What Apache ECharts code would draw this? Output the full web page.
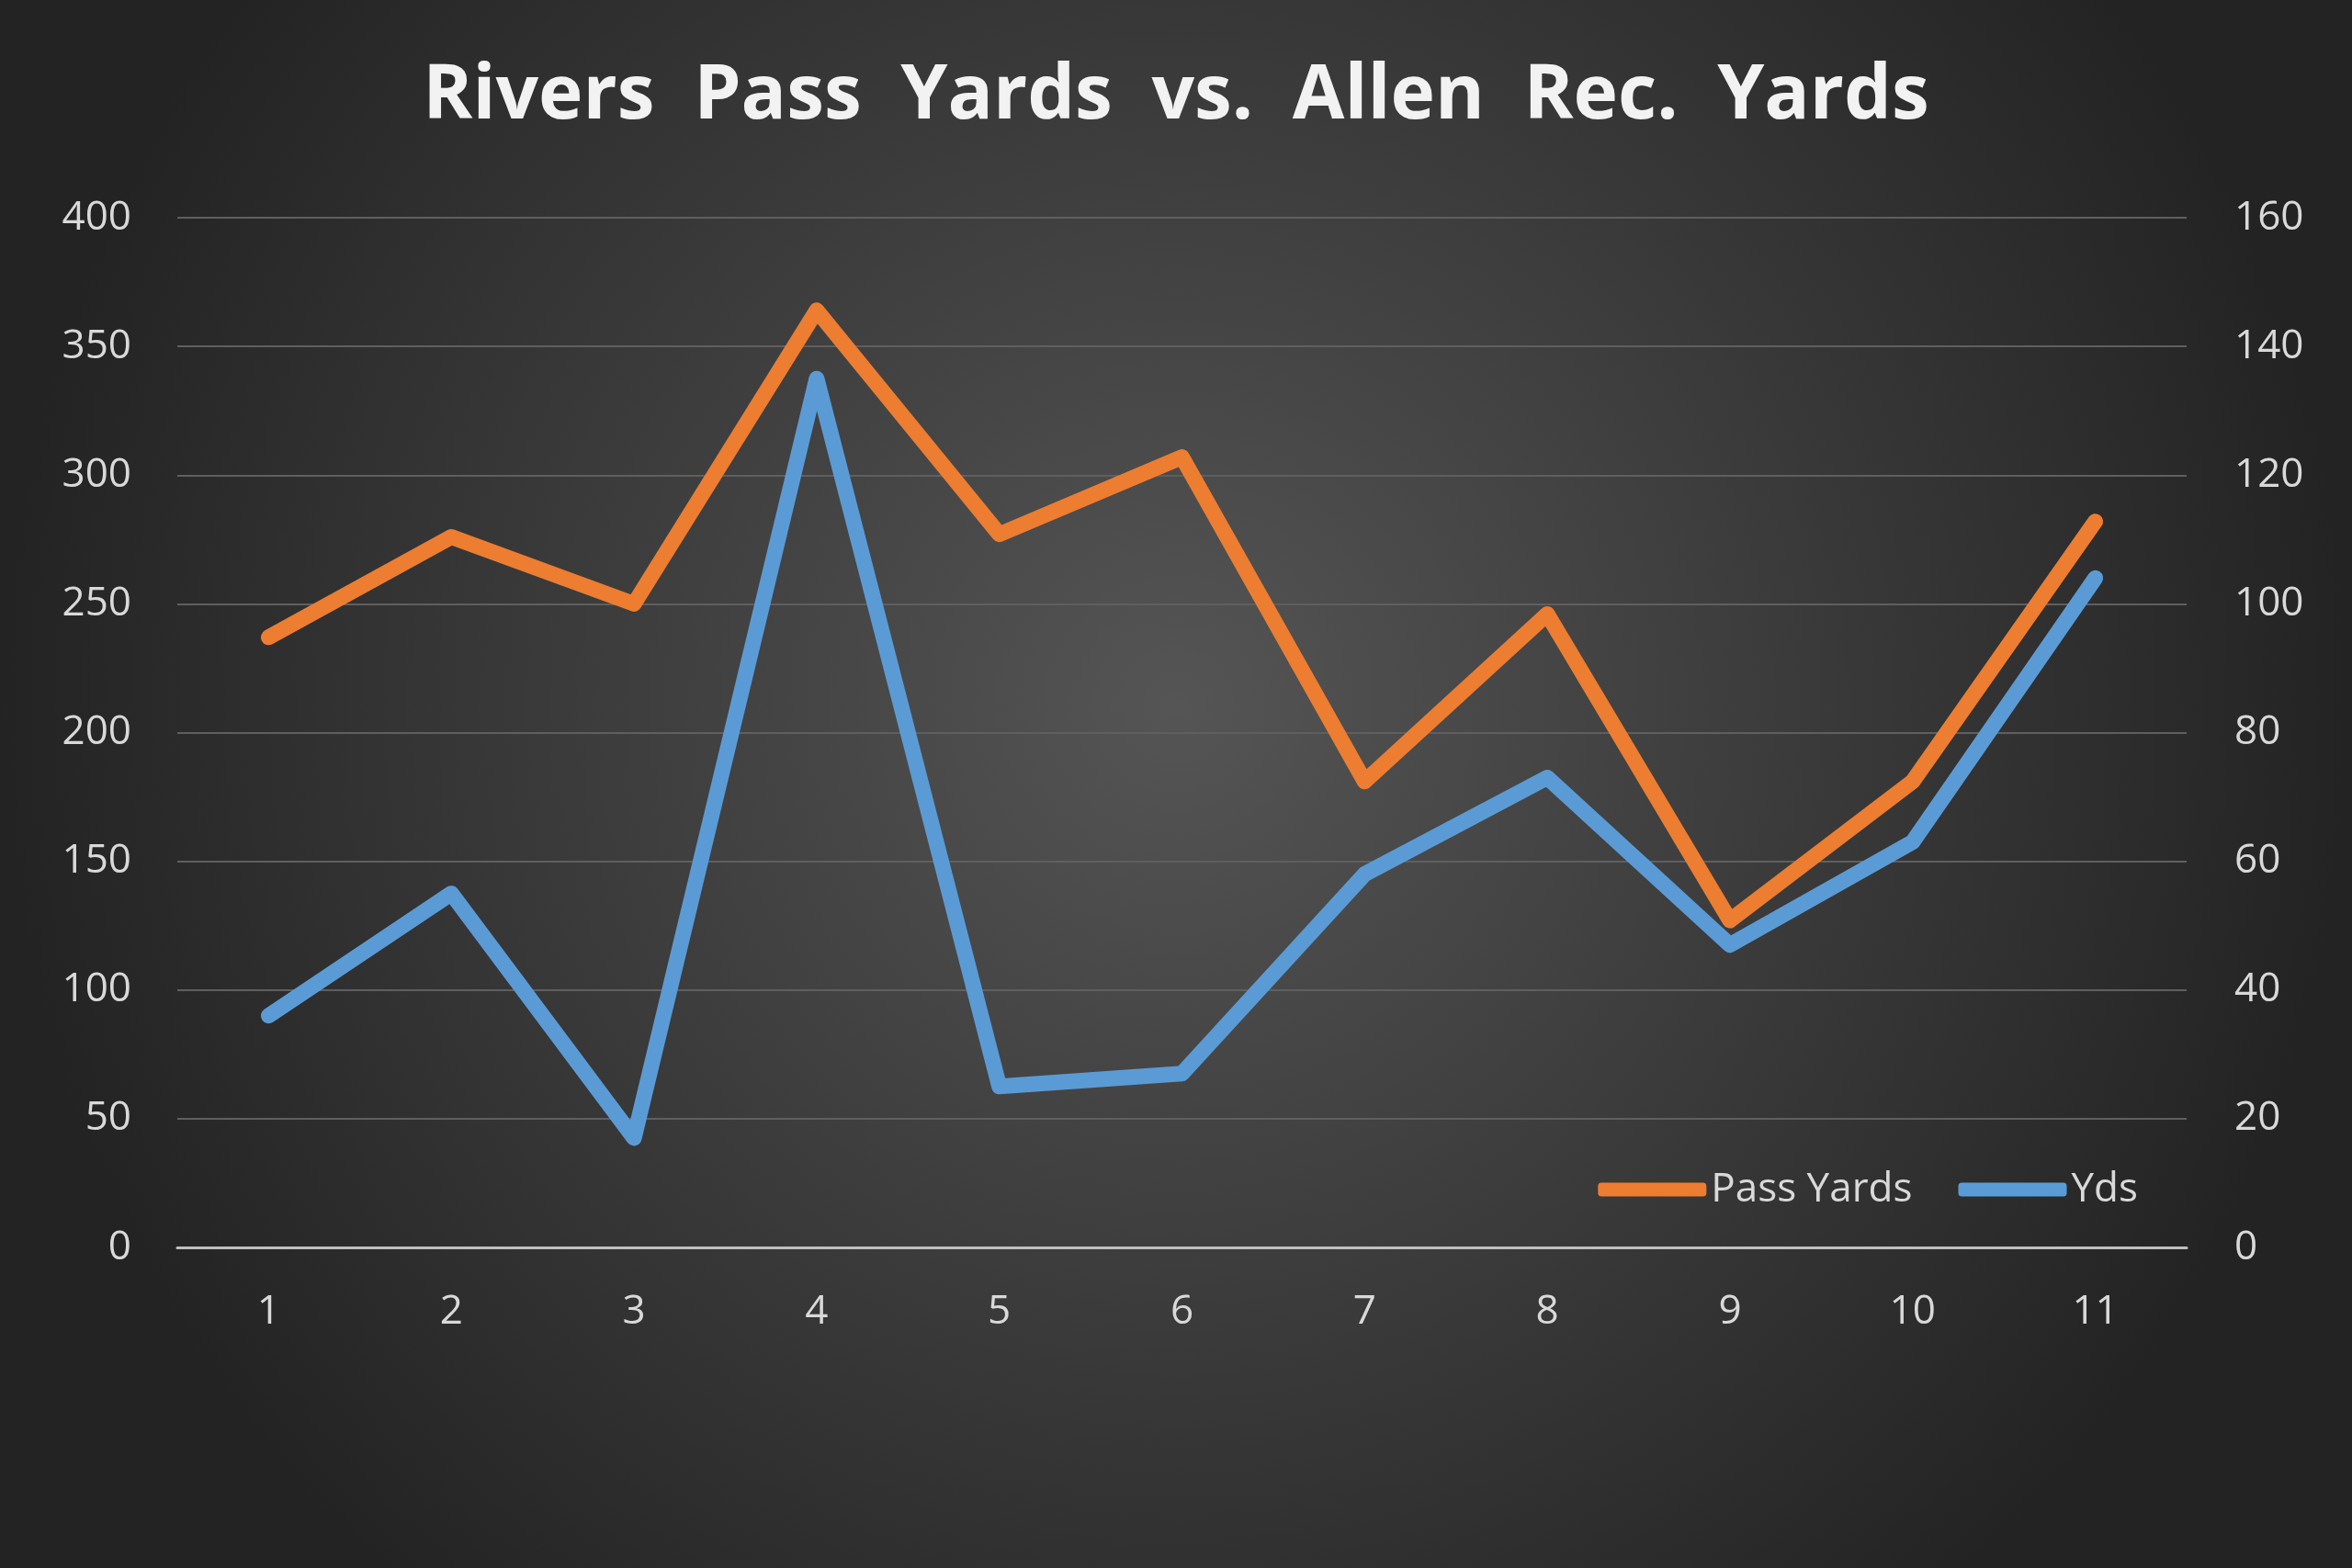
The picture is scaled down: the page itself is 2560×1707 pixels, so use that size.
<!DOCTYPE html>
<html lang="en">
<head>
    <meta charset="UTF-8">
    <title>Rivers Pass Yards vs. Allen Rec. Yards</title>
    <style>
        html, body { margin: 0; padding: 0; background: #2b2b2b; }
        #main { width: 2560px; height: 1707px; }
    </style>
</head>
<body>
<div id="main"></div>

<script src="https://cdn.jsdelivr.net/npm/echarts@6.0.0/dist/echarts.min.js"></script>
<script>
    // game number
    var games = ['1', '2', '3', '4', '5', '6', '7', '8', '9', '10', '11'];
    // Rivers pass yards (left axis)
    var passYards = [237, 276, 250, 364, 277, 307, 181, 246, 127, 181, 282];
    // Allen receiving yards (right axis)
    var recYards = [36, 55, 17, 135, 25, 27, 58, 73, 47, 63, 104];

    var textColor = '#d9d9d9';
    var font = 'Open Sans';

    var myChart = echarts.init(document.getElementById('main'));
    var option = {
        backgroundColor: {
            type: 'radial', x: 0.5, y: 0.45, r: 0.75,
            colorStops: [
                { offset: 0, color: '#555555' },
                { offset: 1, color: '#232323' }
            ]
        },
        title: {
            // wider word gaps like the original
            text: 'Rivers  Pass  Yards  vs.  Allen  Rec.  Yards',
            left: 'center',
            top: 60,
            textStyle: { color: '#f2f2f2', fontSize: 82, fontWeight: 'bold', fontFamily: font }
        },
        legend: {
            data: ['Pass Yards', 'Yds'],
            right: 228,
            top: 1268,
            icon: 'roundRect',
            itemWidth: 118,
            itemHeight: 15,
            itemGap: 50,
            itemTextGap: 8,
            textStyle: { color: textColor, fontSize: 44, fontFamily: font }
        },
        grid: { left: 193, right: 180, top: 237, bottom: 349 },
        xAxis: {
            type: 'category',
            data: games,
            axisLine: { lineStyle: { color: '#bfbfbf', width: 3 } },
            axisTick: { show: false },
            axisLabel: { color: textColor, fontSize: 44, fontFamily: font, margin: 48 }
        },
        yAxis: [{
            type: 'value', min: 0, max: 400, interval: 50,
            axisLine: { show: false },
            axisTick: { show: false },
            splitLine: { lineStyle: { color: '#5f5f5f', width: 2 } },
            axisLabel: { color: textColor, fontSize: 44, fontFamily: font, margin: 50 }
        }, {
            type: 'value', min: 0, max: 160, interval: 20,
            axisLine: { show: false },
            axisTick: { show: false },
            splitLine: { show: false },
            axisLabel: { color: textColor, fontSize: 44, fontFamily: font, margin: 52 }
        }],
        series: [{
            name: 'Pass Yards',
            type: 'line',
            data: passYards,
            yAxisIndex: 0,
            symbol: 'none',
            color: '#ed7d31',
            lineStyle: { width: 17, join: 'round', cap: 'round' }
        }, {
            name: 'Yds',
            type: 'line',
            data: recYards,
            yAxisIndex: 1,
            symbol: 'none',
            color: '#5b9bd5',
            lineStyle: { width: 17, join: 'round', cap: 'round' }
        }]
    };

    myChart.setOption(option);
</script>
</body>
</html>
